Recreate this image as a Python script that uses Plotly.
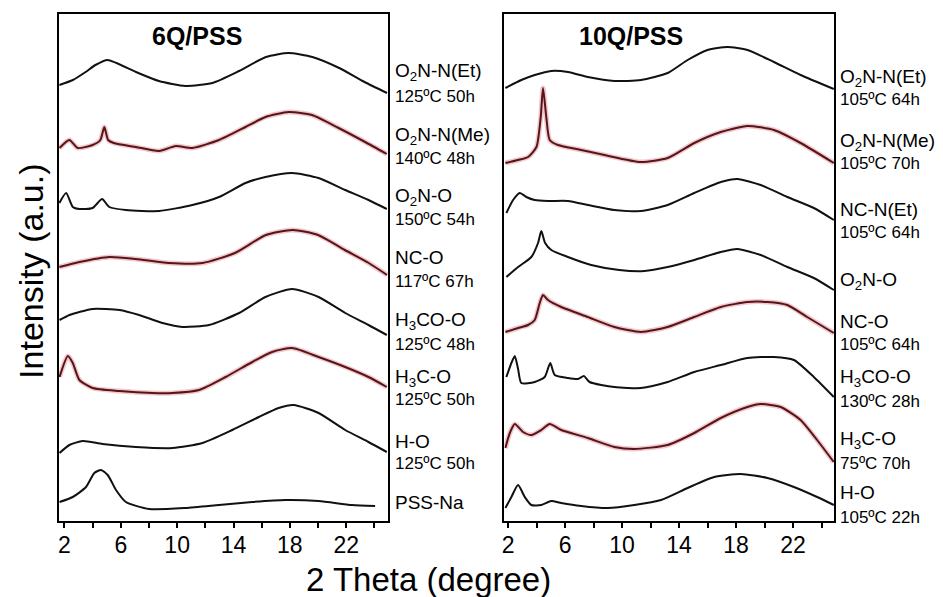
import plotly.graph_objects as go

# ---------------- data (2-theta in degrees, stacked intensity in a.u.) ----------------
# Left panel: 6Q/PSS
L_O2N_NEt_x = [1.64, 2.6, 3.5, 4.2, 5.06, 7.07, 8.7, 10.6, 12.5, 14.4, 16.3, 17.9, 19.6, 21.5, 23.3, 24.9]
L_O2N_NEt_y = [436, 441, 449, 456, 461, 449, 440, 435, 438, 450, 464, 468, 464, 453, 439, 428]
L_O2N_NMe_x = [1.65, 2.35, 2.94, 4.0, 4.55, 4.83, 5.1, 5.5, 7.07, 8.72, 9.9, 11.08, 12.97, 14.85, 16.27, 17.92, 19.57, 21.46, 23.34, 24.88]
L_O2N_NMe_y = [373, 381, 373, 376, 381, 394, 381, 378, 374, 370, 375, 373, 381, 394, 404, 409, 406, 393, 379, 367]
L_O2N_O_x = [1.64, 2.12, 2.59, 3.06, 4.0, 4.67, 5.18, 6.36, 8.72, 11.08, 12.97, 14.85, 16.27, 18.16, 20.04, 21.93, 23.58, 24.88]
L_O2N_O_y = [318, 328, 314, 312, 313, 322, 314, 311, 310, 316, 324, 338, 344, 348, 343, 331, 321, 312]
L_NC_O_x = [1.64, 3.06, 5.2, 7.07, 9.4, 11.8, 14.1, 16.3, 18.2, 20.0, 21.9, 23.6, 24.9]
L_NC_O_y = [254, 259, 264, 262, 258, 258, 268, 286, 291, 286, 271, 258, 246]
L_H3CO_O_x = [1.65, 2.35, 3.06, 4.0, 5.9, 7.3, 8.96, 10.37, 12.26, 14.4, 16.27, 18.16, 20.04, 21.93, 23.58, 24.88]
L_H3CO_O_y = [201, 206, 209, 212, 211, 206, 198, 194, 196, 208, 224, 232, 224, 208, 196, 186]
L_H3C_O_x = [1.65, 2.24, 2.59, 3.06, 4.0, 5.9, 8.25, 9.67, 11.55, 13.44, 15.33, 16.74, 18.16, 20.04, 21.93, 23.58, 24.88]
L_H3C_O_y = [144, 165, 158, 141, 133, 130, 128, 128, 131, 144, 159, 169, 173, 164, 154, 144, 134]
L_H_O_x = [1.65, 2.35, 3.3, 4.71, 7.07, 9.67, 11.79, 13.91, 15.8, 17.2, 18.27, 20.04, 21.93, 23.58, 24.88]
L_H_O_y = [68, 76, 80, 77, 74, 73, 78, 91, 104, 113, 116, 108, 91, 79, 69]
L_PSS_Na_x = [1.65, 2.59, 3.53, 4.12, 4.6, 5.07, 5.66, 6.36, 8.01, 10.6, 12.97, 15.33, 17.68, 20.04, 22.4, 24.05]
L_PSS_Na_y = [19, 24, 34, 48, 51, 46, 31, 19, 12, 13, 16, 19, 21, 20, 16, 15]

# Right panel: 10Q/PSS
R_O2N_NEt_x = [1.81, 2.93, 3.87, 5.03, 6.2, 7.6, 9.46, 11.33, 13.2, 14.6, 16.0, 17.4, 18.8, 20.66, 22.53, 24.86]
R_O2N_NEt_y = [433, 441, 446, 450, 449, 444, 440, 441, 448, 461, 471, 474, 471, 459, 446, 432]
R_O2N_NMe_x = [1.81, 2.7, 3.4, 3.99, 4.29, 4.45, 4.68, 4.92, 5.5, 7.13, 8.76, 11.33, 13.2, 15.07, 16.93, 18.8, 20.66, 22.53, 24.86]
R_O2N_NMe_y = [358, 361, 364, 374, 404, 433, 404, 381, 376, 371, 366, 359, 363, 378, 389, 395, 391, 378, 358]
R_NC_NEt_x = [1.88, 2.35, 2.82, 3.28, 3.87, 4.8, 6.2, 7.6, 9.46, 11.33, 13.2, 15.07, 16.93, 18.1, 19.73, 21.6, 23.46, 24.86]
R_NC_NEt_y = [308, 321, 328, 324, 321, 320, 320, 316, 311, 310, 316, 328, 339, 342, 336, 324, 313, 301]
R_O2N_O_x = [1.88, 2.7, 3.63, 4.1, 4.33, 4.6, 5.03, 6.2, 7.83, 9.8, 11.56, 13.2, 15.07, 16.93, 18.1, 19.73, 21.6, 23.46, 24.86]
R_O2N_O_y = [244, 254, 264, 278, 290, 278, 271, 264, 256, 251, 250, 254, 261, 269, 272, 266, 254, 243, 231]
R_NC_O_x = [1.81, 2.7, 3.4, 3.87, 4.22, 4.45, 4.8, 5.73, 7.6, 9.46, 11.33, 13.2, 15.07, 16.93, 18.8, 20.2, 21.6, 22.99, 24.86]
R_NC_O_y = [189, 193, 196, 201, 218, 226, 221, 214, 204, 194, 189, 194, 204, 214, 219, 219, 216, 204, 188]
R_H3CO_O_x = [1.88, 2.23, 2.47, 2.7, 2.93, 3.87, 4.57, 4.96, 5.27, 6.2, 6.9, 7.32, 7.72, 9.46, 11.33, 13.2, 15.07, 16.93, 18.8, 20.66, 22.06, 23.46, 24.86]
R_H3CO_O_y = [144, 158, 165, 152, 138, 139, 144, 158, 146, 143, 142, 145, 139, 134, 133, 139, 149, 156, 163, 164, 161, 144, 124]
R_H3C_O_x = [1.81, 2.12, 2.47, 3.05, 3.63, 4.33, 4.92, 5.73, 7.6, 9.46, 10.86, 13.2, 15.07, 16.93, 18.8, 19.73, 21.13, 22.53, 23.69, 24.86]
R_H3C_O_y = [73, 88, 97, 89, 86, 91, 97, 91, 83, 74, 72, 76, 88, 103, 114, 117, 114, 101, 81, 59]
R_H_O_x = [1.81, 2.23, 2.7, 3.17, 3.63, 4.33, 5.03, 5.73, 7.13, 9.0, 10.86, 12.73, 14.6, 16.46, 18.33, 20.2, 22.06, 23.69, 24.86]
R_H_O_y = [13, 24, 36, 24, 16, 16, 20, 18, 15, 13, 16, 21, 33, 44, 47, 43, 34, 24, 16]

# sample names and treatment conditions
left_names = ["O<sub>2</sub>N-N(Et)", "O<sub>2</sub>N-N(Me)", "O<sub>2</sub>N-O", "NC-O",
              "H<sub>3</sub>CO-O", "H<sub>3</sub>C-O", "H-O", "PSS-Na"]
left_conds = ["125ºC 50h", "140ºC 48h", "150ºC 54h", "117ºC 67h",
              "125ºC 48h", "125ºC 50h", "125ºC 50h", ""]
right_names = ["O<sub>2</sub>N-N(Et)", "O<sub>2</sub>N-N(Me)", "NC-N(Et)", "O<sub>2</sub>N-O",
               "NC-O", "H<sub>3</sub>CO-O", "H<sub>3</sub>C-O", "H-O"]
right_conds = ["105ºC 64h", "105ºC 70h", "105ºC 64h", "",
               "105ºC 64h", "130ºC 28h", "75ºC 70h", "105ºC 22h"]

tick_vals = [2, 4, 6, 8, 10, 12, 14, 16, 18, 20, 22, 24]
tick_text = ["2", "", "6", "", "10", "", "14", "", "18", "", "22", ""]

left_series = [(L_O2N_NEt_x, L_O2N_NEt_y, False), (L_O2N_NMe_x, L_O2N_NMe_y, True),
               (L_O2N_O_x, L_O2N_O_y, False), (L_NC_O_x, L_NC_O_y, True),
               (L_H3CO_O_x, L_H3CO_O_y, False), (L_H3C_O_x, L_H3C_O_y, True),
               (L_H_O_x, L_H_O_y, False), (L_PSS_Na_x, L_PSS_Na_y, False)]
right_series = [(R_O2N_NEt_x, R_O2N_NEt_y, False), (R_O2N_NMe_x, R_O2N_NMe_y, True),
                (R_NC_NEt_x, R_NC_NEt_y, False), (R_O2N_O_x, R_O2N_O_y, False),
                (R_NC_O_x, R_NC_O_y, True), (R_H3CO_O_x, R_H3CO_O_y, False),
                (R_H3C_O_x, R_H3C_O_y, True), (R_H_O_x, R_H_O_y, False)]

# ---------------- figure ----------------
W, H = 943, 597
fig = go.Figure()

def add_curves(series, xa, ya):
    for xs, ys, red in series:
        if red:
            fig.add_trace(go.Scatter(x=xs, y=ys, mode="lines", xaxis=xa, yaxis=ya,
                                     line=dict(color="rgba(215,120,130,0.4)", width=5,
                                               shape="spline", smoothing=0.6),
                                     hoverinfo="skip", showlegend=False))
        fig.add_trace(go.Scatter(x=xs, y=ys, mode="lines", xaxis=xa, yaxis=ya,
                                 line=dict(color="#5a1418" if red else "#111111", width=2,
                                           shape="spline", smoothing=0.6),
                                 showlegend=False))

add_curves(left_series, "x", "y")
add_curves(right_series, "x2", "y2")

font_main = "Liberation Sans, Arial, Helvetica, sans-serif"
y_top, y_bot = 14, 521
ydom = [1 - y_bot / H, 1 - y_top / H]

xcommon = dict(tickmode="array", tickvals=tick_vals, ticktext=tick_text,
               ticks="outside", ticklen=5, tickwidth=1.5, tickcolor="black",
               showline=True, linecolor="black", linewidth=1.5, mirror=True,
               showgrid=False, zeroline=False, ticklabelstandoff=-2,
               tickfont=dict(family=font_main, size=23, color="black"))
ycommon = dict(range=[0, y_bot - y_top], showline=True, linecolor="black", linewidth=1.5,
               mirror=True, showgrid=False, zeroline=False, showticklabels=False, ticks="")

fig.update_layout(
    width=W, height=H, margin=dict(l=0, r=0, t=0, b=0),
    paper_bgcolor="white", plot_bgcolor="white",
    xaxis=dict(domain=[56 / W, 386 / W], range=[1.6, 24.95], anchor="y", **xcommon),
    xaxis2=dict(domain=[503 / W, 834 / W], range=[1.74, 24.9], anchor="y2", **xcommon),
    yaxis=dict(domain=ydom, anchor="x", **ycommon),
    yaxis2=dict(domain=ydom, anchor="x2", **ycommon),
)

ann = []
def label(xpix, ypix, text, size):
    ann.append(dict(x=xpix / W, y=1 - ypix / H, xref="paper", yref="paper", text=text,
                    showarrow=False, xanchor="left", yanchor="middle",
                    font=dict(family=font_main, size=size, color="black")))

left_name_y = [72, 136, 197, 257, 321, 378, 441, 502]
left_cond_y = [97, 159, 220, 281, 344, 399, 463, None]
right_name_y = [78, 142, 210, 281, 321, 378, 440, 492]
right_cond_y = [100, 164, 232, None, 344, 401, 463, 517]

for n, c, yn, yc in zip(left_names, left_conds, left_name_y, left_cond_y):
    label(391, yn, n, 19)
    if c:
        label(391, yc, c, 17)
for n, c, yn, yc in zip(right_names, right_conds, right_name_y, right_cond_y):
    label(838, yn, n, 19)
    if c:
        label(838, yc, c, 17)

# panel titles
for xc, t in [(195, "6Q/PSS"), (630, "10Q/PSS")]:
    ann.append(dict(x=xc / W, y=1 - 36 / H, xref="paper", yref="paper", text="<b>%s</b>" % t,
                    showarrow=False, xanchor="center", yanchor="middle",
                    font=dict(family=font_main, size=25, color="black")))

# axis titles
ann.append(dict(x=427 / W, y=1 - 579 / H, xref="paper", yref="paper", text="2 Theta (degree)",
                showarrow=False, xanchor="center", yanchor="middle",
                font=dict(family=font_main, size=33, color="black")))
ann.append(dict(x=28 / W, y=1 - 271 / H, xref="paper", yref="paper", text="Intensity (a.u.)",
                showarrow=False, xanchor="center", yanchor="middle", textangle=-90,
                font=dict(family=font_main, size=34, color="black")))

fig.update_layout(annotations=ann)
fig.write_html("out.html", config={"displayModeBar": False},
               post_script="document.body.style.margin='0';document.body.style.overflow='hidden';")
